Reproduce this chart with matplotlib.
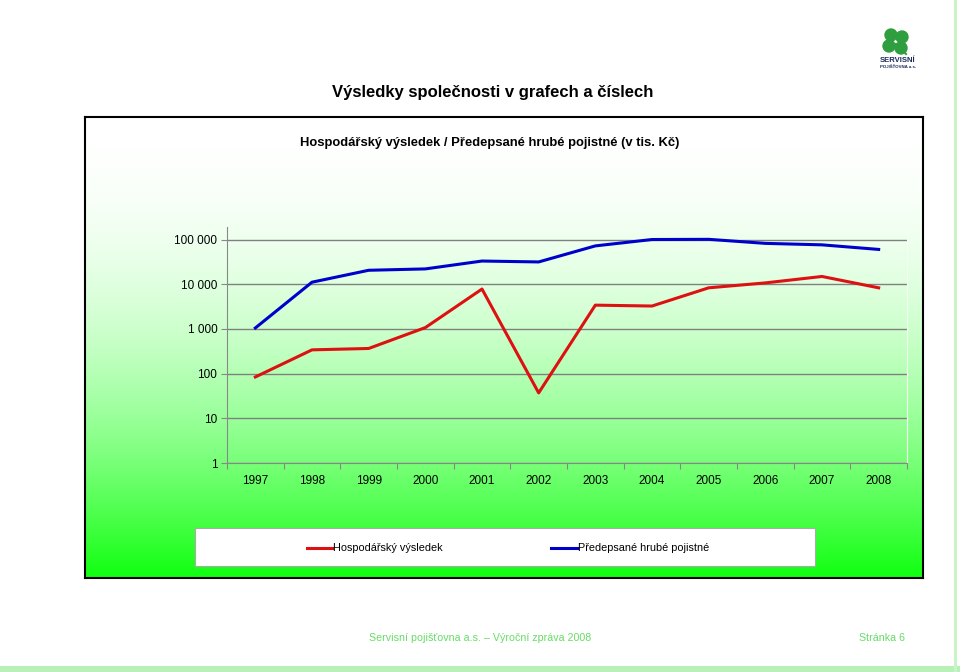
import numpy as np
import matplotlib.pyplot as plt
from matplotlib.patches import Rectangle, Circle
from matplotlib.lines import Line2D
from matplotlib.ticker import FixedLocator, FuncFormatter, NullLocator

plt.rcParams['font.family'] = ['Liberation Sans', 'DejaVu Sans']

years = ['1997', '1998', '1999', '2000', '2001', '2002',
         '2003', '2004', '2005', '2006', '2007', '2008']
hosp_vysledek = [84, 340, 365, 1070, 7800, 37, 3400, 3250, 8300, 10700, 14900, 8300]
predepsane = [1050, 11100, 20500, 22000, 33000, 31500, 72000, 100000, 101000, 82000, 76000, 60000]
yticks = [1, 10, 100, 1000, 10000, 100000]

W, H = 960, 672


def box(x0, y0, x1, y1):
    # pixel box (top-left origin) -> figure fraction rect
    return [x0 / W, 1 - y1 / H, (x1 - x0) / W, (y1 - y0) / H]


fig = plt.figure(figsize=(9.6, 6.72), dpi=100)
fig.patch.set_facecolor('white')

# gradient chart box
bg = fig.add_axes(box(85, 117, 923, 578))
t = np.linspace(0, 1, 256).reshape(-1, 1) ** 2
top = np.array([1.0, 1.0, 1.0])
bot = np.array([0.06, 1.0, 0.06])
grad = top * (1 - t[..., None]) + bot * t[..., None]
bg.imshow(grad, aspect='auto', extent=[0, 1, 0, 1], origin='upper')
bg.set_xticks([])
bg.set_yticks([])
for s in bg.spines.values():
    s.set_linewidth(1.5)
    s.set_color('black')

# plot area
ax = fig.add_axes(box(227, 227, 907, 463))
ax.patch.set_alpha(0)
x = np.arange(len(years))
ax.plot(x, hosp_vysledek, color='#dd1111', lw=2.2, solid_joinstyle='round')
ax.plot(x, predepsane, color='#0000cc', lw=2.2, solid_joinstyle='round')
ax.set_yscale('log')
ax.set_ylim(1, 10 ** 5.28)
ax.set_xlim(-0.5, len(years) - 0.5)
ax.yaxis.set_major_locator(FixedLocator(yticks))
ax.yaxis.set_minor_locator(NullLocator())
ax.yaxis.set_major_formatter(FuncFormatter(lambda v, p: f'{int(v):,}'.replace(',', ' ')))
ax.set_xticks(np.arange(len(years) + 1) - 0.5)
ax.set_xticklabels([])
ax.set_xticks(x, minor=True)
ax.set_xticklabels(years, minor=True)
ax.tick_params(axis='x', which='minor', length=0, pad=9, labelsize=8.5)
ax.tick_params(axis='x', which='major', length=4, color='#888888', direction='out')
ax.tick_params(axis='y', length=4, color='#888888', labelsize=8.5, pad=3)
ax.grid(axis='y', color='#808080', lw=1)
for s in ['top', 'right']:
    ax.spines[s].set_visible(False)
for s in ['left', 'bottom']:
    ax.spines[s].set_color('#888888')
ax.spines['right'].set_visible(True)
ax.spines['right'].set_color('#f4fff4')

# legend box
lg = fig.add_axes(box(195, 528, 815, 566))
lg.set_xlim(195, 815)
lg.set_ylim(566, 528)
lg.set_xticks([])
lg.set_yticks([])
lg.patch.set_facecolor('white')
for s in lg.spines.values():
    s.set_color('#aaaaaa')
    s.set_linewidth(0.8)
lg.add_line(Line2D([307, 332], [548, 548], color='#dd1111', lw=2.2))
lg.text(333, 548, 'Hospodářský výsledek', fontsize=7.8, va='center', ha='left')
lg.add_line(Line2D([551, 577], [548, 548], color='#0000cc', lw=2.2))
lg.text(578, 548, 'Předepsané hrubé pojistné', fontsize=7.8, va='center', ha='left')

# page texts
fig.text(493 / W, 1 - 93 / H, 'Výsledky společnosti v grafech a číslech',
         fontsize=12, fontweight='bold', ha='center', va='center')
fig.text(490 / W, 1 - 143 / H, 'Hospodářský výsledek / Předepsané hrubé pojistné (v tis. Kč)',
         fontsize=9.4, fontweight='bold', ha='center', va='center')
fig.text(480 / W, 1 - 638 / H, 'Servisní pojišťovna a.s. – Výroční zpráva 2008',
         fontsize=7.7, color='#66dd66', ha='center', va='center')
fig.text(905 / W, 1 - 638 / H, 'Stránka 6',
         fontsize=7.7, color='#66dd66', ha='right', va='center')

# page border lines
fig.add_artist(Rectangle((0, 0), 1, 6 / H, transform=fig.transFigure,
                         facecolor='#b8f0b8', edgecolor='none'))
fig.add_artist(Rectangle((954 / W, 0), 3 / W, 1, transform=fig.transFigure,
                         facecolor='#c8f4c8', edgecolor='none'))

# logo
lo = fig.add_axes(box(876, 24, 922, 72))
lo.set_xlim(876, 922)
lo.set_ylim(72, 24)
lo.set_aspect('equal')
lo.axis('off')
green = '#2e9e3e'
for cx, cy in [(891, 35), (902, 37), (889, 46), (901, 48)]:
    lo.add_patch(Circle((cx, cy), 6, color=green))
lo.add_line(Line2D([896, 906], [44, 54], color=green, lw=1.5))
lo.text(898, 61, 'SERVISNÍ', fontsize=5.5, fontweight='bold', color='#1a2a5a',
        ha='center', va='center')
lo.text(898, 67, 'POJIŠŤOVNA a.s.', fontsize=3.2, fontweight='bold', color='#1a2a5a',
        ha='center', va='center')

fig.savefig('out.png', dpi=100)
